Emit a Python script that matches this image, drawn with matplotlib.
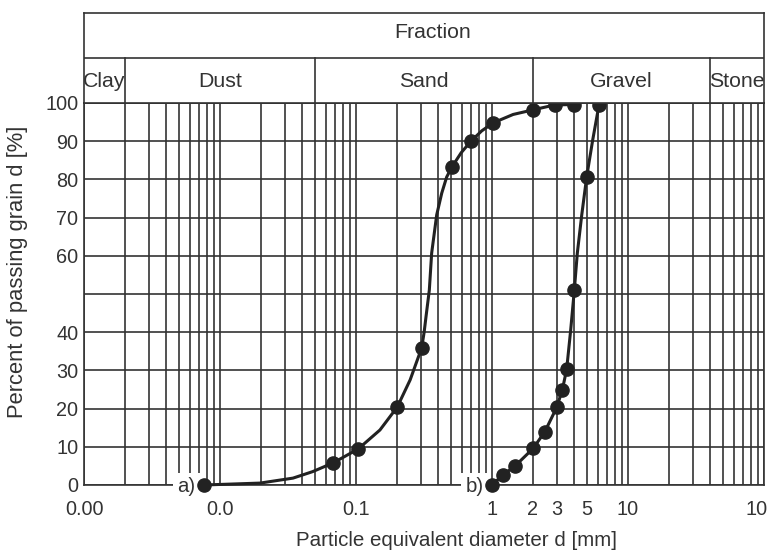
import numpy as np
import matplotlib.pyplot as plt
import matplotlib.transforms as mtrans

plt.rcParams['font.family'] = ['Liberation Sans', 'DejaVu Sans']

# curve a) measured points
a_d = [0.0076, 0.068, 0.1035, 0.201, 0.304, 0.506, 0.70, 1.02, 2.0, 2.9, 4.0]
a_p = [0, 5.8, 9.4, 20.4, 35.9, 83.2, 90, 94.8, 98.2, 99.5, 99.6]
# curve a) line as drawn in the figure
a_line_d = [0.0076, 0.0197, 0.0344, 0.048, 0.068, 0.1035, 0.150, 0.201, 0.250, 0.304,
            0.317, 0.327, 0.346, 0.360, 0.392, 0.427, 0.464, 0.506, 0.594, 0.70, 0.84,
            1.02, 1.43, 2.0, 2.9, 4.0]
a_line_p = [0, 0.5, 1.8, 3.5, 5.8, 9.4, 14.4, 20.4, 27.5, 35.9,
            40, 44, 51, 60.7, 70.7, 76.4, 80.6, 83.2, 87.0, 90, 92.7,
            94.8, 97.0, 98.2, 99.5, 99.6]

# curve b) measured points
b_d = [1.0, 1.2, 1.48, 2.01, 2.45, 2.99, 3.29, 3.54, 4.03, 4.97, 6.12]
b_p = [0, 2.6, 5.0, 9.6, 14.0, 20.3, 24.9, 30.3, 51, 80.7, 99.5]
b_line_d = [1.0, 1.2, 1.48, 2.01, 2.45, 2.99, 3.29, 3.54, 3.79, 4.03, 4.24, 4.57,
            4.97, 5.5, 6.12]
b_line_p = [0, 2.6, 5.0, 9.6, 14.0, 20.3, 24.9, 30.3, 40.6, 51, 60.7, 70.7,
            80.7, 90.3, 99.5]

# fractions
frac_names = ['Clay', 'Dust', 'Sand', 'Gravel', 'Stone']
frac_edges = [0.001, 0.002, 0.05, 2, 40, 100]

xtick_vals = [0.001, 0.01, 0.1, 1, 2, 3, 5, 10, 100]
xtick_labels = ['0.00', '0.0', '0.1', '1', '2', '3', '5', '10', '10']
ytick_vals = [0, 10, 20, 30, 40, 50, 60, 70, 80, 90, 100]
ytick_labels = ['0', '10', '20', '30', '40', '', '60', '70', '80', '90', '100']

W, H = 769, 553
LC = '#333333'
TC = '#333333'
fs = 14.3

fig = plt.figure(figsize=(W / 100, H / 100), dpi=100)
ax = fig.add_axes([84 / W, (H - 485) / H, 680 / W, 382 / H])
ax.set_xscale('log')
ax.set_xlim(0.001, 100)
ax.set_ylim(0, 100)

grid_x = [m * 10.0 ** k for k in range(-3, 2) for m in range(1, 10)]
ax.set_xticks(grid_x, minor=True)
ax.set_xticks(xtick_vals)
ax.set_xticklabels(xtick_labels)
ax.set_yticks(ytick_vals)
ax.set_yticklabels(ytick_labels)
ax.grid(True, which='both', color=LC, lw=1.2)
ax.set_axisbelow(True)
ax.tick_params(which='both', length=0, labelsize=fs, labelcolor=TC)
ax.tick_params(axis='x', pad=11)
ax.tick_params(axis='y', pad=4)
# last label sits against the right edge of the figure
last = ax.get_xticklabels()[-1]
last.set_ha('right')
last.set_transform(last.get_transform() + mtrans.ScaledTranslation(4 / 100, 0, fig.dpi_scale_trans))
for s in ax.spines.values():
    s.set_color(LC)
    s.set_linewidth(1.2)

ax.plot(a_line_d, a_line_p, color='#222222', lw=2.2, zorder=5, clip_on=False)
ax.plot(a_d, a_p, 'o', color='#222222', ms=9.5, zorder=6, clip_on=False)
ax.plot(b_line_d, b_line_p, color='#222222', lw=2.2, zorder=5, clip_on=False)
ax.plot(b_d, b_p, 'o', color='#222222', ms=9.5, zorder=6, clip_on=False)

for lab, xd in [('a)', a_d[0]), ('b)', b_d[0])]:
    ax.annotate(lab, xy=(xd, 0), xytext=(-6, -1), textcoords='offset points',
                ha='right', va='center', fontsize=fs + 0.4, color=TC, zorder=4,
                bbox=dict(boxstyle='square,pad=0.2', fc='white', ec='none'),
                annotation_clip=False)

# header table
hax = fig.add_axes([84 / W, (H - 103) / H, 680 / W, 90 / H])
hax.set_xscale('log')
hax.set_xlim(0.001, 100)
hax.set_ylim(0, 2)
hax.set_xticks([])
hax.set_yticks([])
hax.minorticks_off()
for s in hax.spines.values():
    s.set_color(LC)
    s.set_linewidth(1.2)
hax.axhline(1, color=LC, lw=1.2)
for e in frac_edges[1:-1]:
    hax.plot([e, e], [0, 1], color=LC, lw=1.2)
for i, name in enumerate(frac_names):
    xc = np.sqrt(frac_edges[i] * frac_edges[i + 1])
    hax.text(xc, 0.48, name, ha='center', va='center', fontsize=15.3, color=TC)
hax.text(np.sqrt(0.001 * 100) * 1.15, 1.57, 'Fraction', ha='center', va='center',
         fontsize=15.3, color=TC)

fig.text(18 / W, 1 - 272 / H, 'Percent of passing grain d [%]', rotation=90,
         ha='center', va='center', fontsize=15.8, color=TC)
fig.text(456 / W, 1 - 541 / H, 'Particle equivalent diameter d [mm]',
         ha='center', va='center', fontsize=14.8, color=TC)

fig.savefig('out.png', dpi=100)
